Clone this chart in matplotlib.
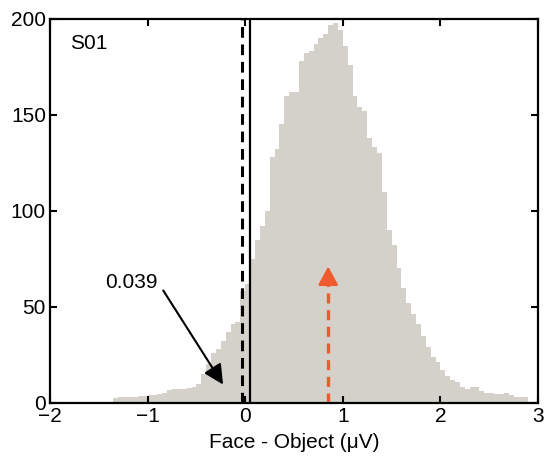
import numpy as np
import matplotlib.pyplot as plt

plt.rcParams['font.family'] = ['Liberation Sans', 'DejaVu Sans']

# histogram of Face - Object differences (bin width 0.05 from -1.35)
bin_start = -1.35
bin_width = 0.05
counts = [2.5, 3, 3, 3, 3, 3.5, 3.5, 4, 4, 4.5,
          5, 6.5, 7, 7, 7, 7.5, 8, 10, 15, 20,
          26, 28, 32, 37, 41, 42, 58, 62, 75, 85,
          92, 100, 128, 132, 145, 160, 162, 162, 178, 182,
          183, 187, 190, 192, 197, 198, 194, 186, 176, 160,
          154, 152, 138, 133, 130, 110, 90, 82, 70, 60,
          52, 46, 41, 35, 29, 24, 21, 17, 14, 12,
          11, 8, 7, 8, 8, 6, 5, 5, 4.5, 4.5,
          5, 4, 3, 3, 3]
edges = bin_start + bin_width * np.arange(len(counts) + 1)

observed = 0.05      # solid line
threshold = -0.035   # dashed line
mean_diff = 0.85     # red arrow
p_value = '0.039'

fig = plt.figure(figsize=(5.44, 4.7), dpi=100)
ax = fig.add_axes([0.092, 0.143, 0.897, 0.817])

ax.stairs(counts, edges, fill=True, color='#d4d1cb', linewidth=0)

ax.axvline(threshold, color='black', lw=2.2, ls=(0, (3.5, 2.2)))
ax.axvline(observed, color='black', lw=1.6)

# red dashed arrow
ax.plot([mean_diff, mean_diff], [0, 64], color='#ef5a2f', lw=2.4, ls=(0, (3, 2)))
ax.annotate('', xy=(mean_diff, 71), xytext=(mean_diff, 62),
            arrowprops=dict(arrowstyle='-|>,head_length=1.1,head_width=0.6',
                            color='#ef5a2f', lw=2, shrinkA=0, shrinkB=0))

# p-value annotation
ax.text(-1.17, 62.5, p_value, ha='center', va='center', fontsize=15)
ax.annotate('', xy=(-0.227, 9.5), xytext=(-0.84, 58.5),
            arrowprops=dict(arrowstyle='-|>,head_length=1.2,head_width=0.6',
                            color='black', lw=1.5, shrinkA=0, shrinkB=0))

ax.text(-1.8, 187, 'S01', fontsize=15, va='center', ha='left')

ax.set_xlim(-2, 3)
ax.set_ylim(0, 200)
ax.set_xticks([-2, -1, 0, 1, 2, 3])
ax.set_yticks([0, 50, 100, 150, 200])
ax.tick_params(direction='in', top=True, right=True, length=5, width=1.5,
               labelsize=15, pad=3)
for s in ax.spines.values():
    s.set_linewidth(1.6)
ax.set_xlabel('Face - Object (\u03bcV)', fontsize=15, labelpad=5)

fig.savefig('out.png', dpi=100)
